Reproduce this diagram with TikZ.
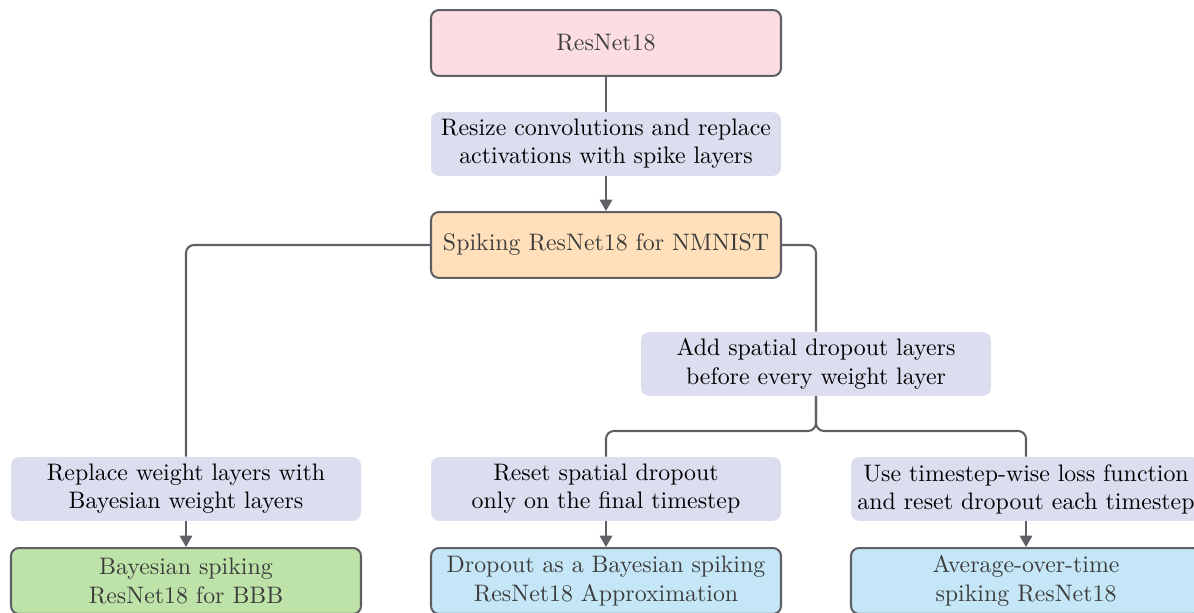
\documentclass[tikz,border=0pt]{standalone}
\usepackage{tikz}
\usetikzlibrary{arrows.meta}
\definecolor{edgegray}{HTML}{5F5F66}
\definecolor{textgray}{HTML}{3C3C3C}
\definecolor{stepfill}{HTML}{DCDEF0}
\definecolor{basefill}{HTML}{FBDDE2}
\definecolor{snnfill}{HTML}{FFE0BA}
\definecolor{bbbfill}{HTML}{BDE3A8}
\definecolor{dropfill}{HTML}{C4E6F6}
\tikzset{
	every node/.style={font=\fontsize{10.5pt}{12.4pt}\selectfont},
	model/.style={draw=edgegray, line width=0.9pt, rounded corners=3.5pt, minimum width=154pt, minimum height=29pt, align=center, text=textgray, inner sep=2pt},
	change/.style={fill=stepfill, rounded corners=3.5pt, minimum width=154pt, minimum height=28pt, align=center, inner sep=2pt},
	link/.style={draw=edgegray, line width=0.9pt, rounded corners=3.5pt},
	linkarrow/.style={link, -{Triangle[length=5pt,width=5.5pt]}}
}

\begin{document}
\begin{tikzpicture}[x=0.44pt, y=-0.44pt]
		%%%%% START %%%%%
		\clip (0, 0) rectangle (1194, 613);
		
		\node[model, fill=basefill] (resnet) at (606, 43) {ResNet18};
		\node[change] (spikestep) at (606, 144) {Resize convolutions and replace\\activations with spike layers};
		\node[model, fill=snnfill] (spiking) at (606, 245) {Spiking ResNet18 for NMNIST};
		
		\node[change] (dropstep) at (816, 364) {Add spatial dropout layers\\before every weight layer};
		\coordinate (split) at (816, 431);
		
		\node[change] (bbbstep) at (186, 489) {Replace weight layers with\\Bayesian weight layers};
		\node[change] (finalstep) at (606, 489) {Reset spatial dropout\\only on the final timestep};
		\node[change] (timestep) at (1026, 489) {Use timestep-wise loss function\\and reset dropout each timestep};
		
		\node[model, fill=bbbfill] (bbb) at (186, 581) {Bayesian spiking\\ResNet18 for BBB};
		\node[model, fill=dropfill] (mcdrop) at (606, 581) {Dropout as a Bayesian spiking\\ResNet18 Approximation};
		\node[model, fill=dropfill] (avgtime) at (1026, 581) {Average-over-time\\spiking ResNet18};
		
		\draw[link] (resnet) -- (spikestep);
		\draw[linkarrow] (spikestep) -- (spiking);
		
		\draw[link] (spiking.west) -| (bbbstep.north);
		\draw[linkarrow] (bbbstep) -- (bbb);
		
		\draw[link] (spiking.east) -| (dropstep.north);
		\draw[link] (dropstep.south) -- (split) -| (finalstep.north);
		\draw[link] (dropstep.south) -- (split) -| (timestep.north);
		\draw[linkarrow] (finalstep) -- (mcdrop);
		\draw[linkarrow] (timestep) -- (avgtime);
		%%%%% END %%%%%
\end{tikzpicture}
\end{document}
